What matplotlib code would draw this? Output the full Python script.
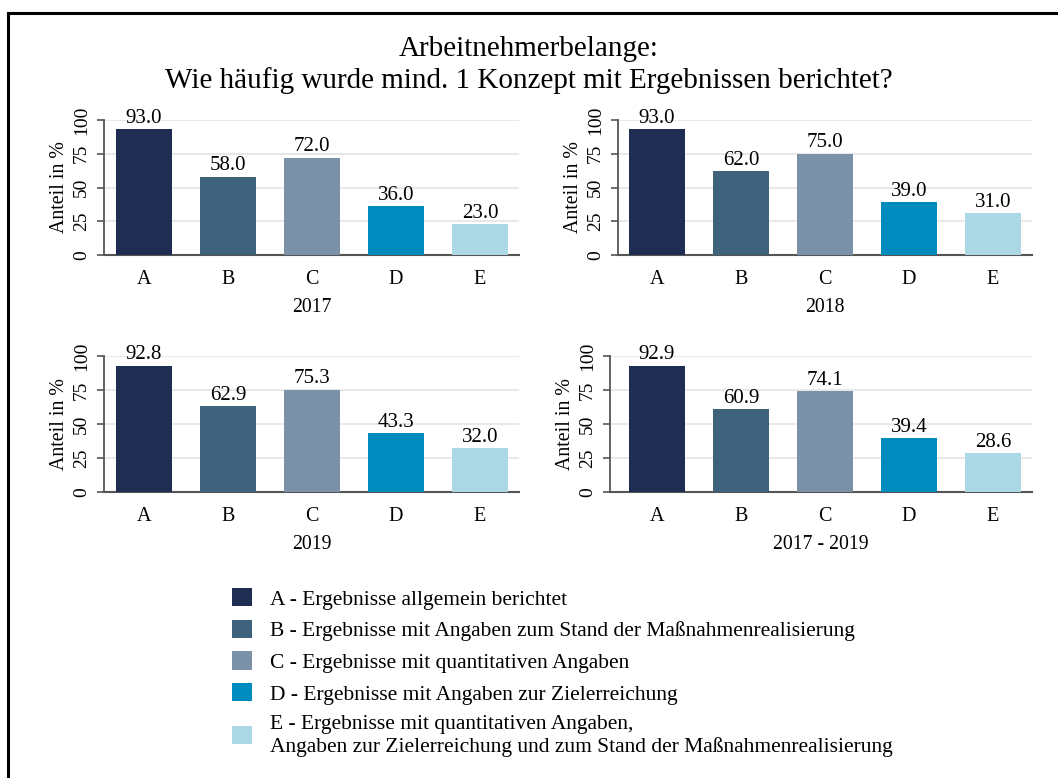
#
# Arbeitnehmerbelange: Ergebnisse berichtet (4 Panels + Legende)
#

import matplotlib
matplotlib.use("Agg")
import matplotlib.pyplot as plt
from matplotlib.patches import Patch
from matplotlib.lines import Line2D

plt.rcParams['font.family'] = ['Liberation Serif', 'DejaVu Serif']

categories = ["A", "B", "C", "D", "E"]
panel_titles = ["2017", "2018", "2019", "2017 - 2019"]
values_2017 = [93.0, 58.0, 72.0, 36.0, 23.0]
values_2018 = [93.0, 62.0, 75.0, 39.0, 31.0]
values_2019 = [92.8, 62.9, 75.3, 43.3, 32.0]
values_all = [92.9, 60.9, 74.1, 39.4, 28.6]
legend_labels = [
    "A - Ergebnisse allgemein berichtet",
    "B - Ergebnisse mit Angaben zum Stand der Maßnahmenrealisierung",
    "C - Ergebnisse mit quantitativen Angaben",
    "D - Ergebnisse mit Angaben zur Zielerreichung",
    "E - Ergebnisse mit quantitativen Angaben,\nAngaben zur Zielerreichung und zum Stand der Maßnahmenrealisierung",
]

colors = ["#1f2d52", "#3e627c", "#7b91a8", "#008bbf", "#acd8e5"]
W, H = 1058, 778

fig = plt.figure(figsize=(W / 100, H / 100), dpi=100)

# frame lines (left + top)
fig.add_artist(Line2D([8 / W, 8 / W], [0, 1 - 13 / H], color="black", lw=2.2, transform=fig.transFigure))
fig.add_artist(Line2D([8 / W, 1], [1 - 13 / H, 1 - 13 / H], color="black", lw=2.2, transform=fig.transFigure))

fig.text(0.5, 1 - 49 / H, "Arbeitnehmerbelange:", ha="center", va="center", fontsize=21)
fig.text(0.5, 1 - 81 / H, "Wie häufig wurde mind. 1 Konzept mit Ergebnissen berichtet?",
         ha="center", va="center", fontsize=21)

# pixel boxes: (left, top, right, bottom), xlim left
boxes = [
    (104, 120, 519, 255, -0.476),
    (618, 120, 1032, 255, -0.464),
    (104, 356, 519, 492, -0.476),
    (610, 356, 1032, 492, -0.56),
]
all_values = [values_2017, values_2018, values_2019, values_all]

for (l, t, r, b, xl), vals, title in zip(boxes, all_values, panel_titles):
    ax = fig.add_axes([l / W, 1 - b / H, (r - l) / W, (b - t) / H])
    x = range(len(categories))
    bars = ax.bar(x, vals, width=0.667, color=colors, zorder=3)
    ax.bar_label(bars, labels=["%.1f" % v for v in vals], padding=1, fontsize=15, clip_on=False)
    ax.set_xlim(xl, 4.464)
    ax.set_ylim(0, 100)
    ax.set_yticks([0, 25, 50, 75, 100])
    ax.set_xticks(list(x))
    ax.set_xticklabels(categories)
    ax.tick_params(axis="x", length=0, pad=11, labelsize=14.5)
    ax.tick_params(axis="y", length=5, width=1.2, color="#555555", pad=5, labelsize=14)
    for lab in ax.get_yticklabels():
        lab.set_rotation(90)
        lab.set_va("center")
    ax.yaxis.grid(True, color="#e8e8e8", lw=1.5, zorder=0)
    ax.set_axisbelow(True)
    for s in ["top", "right"]:
        ax.spines[s].set_visible(False)
    ax.spines["left"].set_color("#555555")
    ax.spines["bottom"].set_color("#555555")
    ax.spines["left"].set_linewidth(1.3)
    ax.spines["bottom"].set_linewidth(1.5)
    ax.set_ylabel("Anteil in %", fontsize=14.3, labelpad=3)
    ax.set_xlabel(title, fontsize=14.2, labelpad=6)

handles = [Patch(facecolor=c, edgecolor="none") for c in colors]
fig.legend(handles, legend_labels, loc="upper left", bbox_to_anchor=(232 / W, 1 - 588 / H),
           frameon=False, fontsize=15.5, handlelength=0.93, handleheight=0.93,
           handletextpad=0.85, labelspacing=0.47, borderaxespad=0, borderpad=0)

fig.savefig("out.png", dpi=100, facecolor="white")
